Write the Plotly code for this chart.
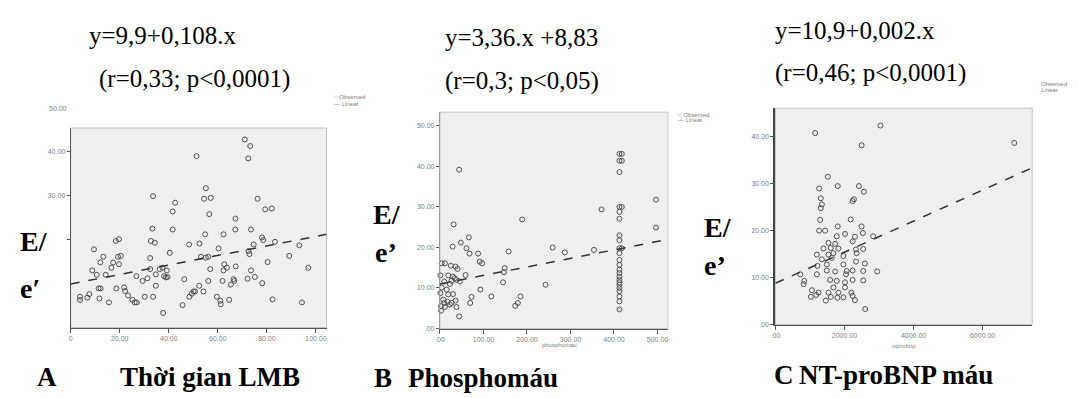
import plotly.graph_objects as go

W, H = 1078, 398

# ---------------- Panel A: Thời gian LMB ----------------
A_x = [3.8, 3.8, 6.8, 7.6, 9.5, 8.8, 10.6, 11.4, 12.2, 11.7, 12.1, 13.3, 14.3, 15.6, 16.6, 17.3,
       18.4, 18.6, 19.7, 19.7, 20.4, 19.3, 21.8, 22.2, 23.4, 25.2, 26.1, 26.9, 26.8, 29.3, 30.2,
       31.3, 32.4, 32.4, 32.7, 33.3, 33.6, 34.3, 33.6, 34.7, 34.7, 36.3, 37.4, 38.1, 38.8, 39.5,
       37.7, 39.2, 40.4, 41.6, 41.6, 42.6, 45.6, 46.3, 48.3, 48.4, 49.4, 50.1, 50.7, 51.3, 52.5,
       52.4, 53.1, 54.1, 54.4, 55.1, 54.8, 55.1, 56.1, 56.5, 57.1, 56.9, 56.1, 59.6, 60.3, 61.0,
       61.2, 61.9, 62.3, 62.6, 62.3, 63.7, 64.6, 65.3, 66.4, 66.7, 67.2, 67.1, 67.3, 71.0, 72.1,
       72.4, 73.2, 72.5, 72.9, 73.5, 73.5, 74.6, 75.1, 76.2, 78.0, 78.5, 78.1, 79.3, 80.3, 82.0,
       82.3, 83.3, 89.1, 93.2, 94.3, 96.9]
A_y = [7.0, 6.3, 6.8, 7.6, 17.8, 13.0, 12.0, 8.9, 8.9, 6.6, 14.8, 16.1, 12.0, 5.7, 13.6, 14.8,
       19.7, 8.9, 20.1, 14.4, 16.3, 16.1, 9.1, 8.3, 7.3, 6.3, 5.7, 5.7, 11.7, 10.6, 7.0,
       11.2, 15.8, 13.3, 19.7, 22.5, 29.9, 19.3, 7.0, 9.5, 12.1, 13.3, 13.6, 11.7, 11.4, 11.5,
       3.3, 13.0, 17.0, 26.4, 22.3, 28.4, 5.1, 11.0, 18.9, 7.0, 7.7, 8.2, 8.2, 39.0, 19.1,
       9.5, 16.1, 8.2, 29.3, 31.7, 21.2, 15.9, 16.1, 25.8, 29.5, 13.3, 10.6, 7.0, 18.0, 6.1,
       5.3, 10.6, 13.0, 14.4, 21.2, 13.6, 6.3, 9.8, 11.0, 10.6, 24.8, 22.3, 13.9, 42.8, 11.1,
       38.5, 41.3, 17.4, 16.7, 22.3, 13.0, 18.9, 11.5, 29.3, 20.5, 19.9, 10.1, 26.9, 14.9, 27.1,
       6.4, 19.5, 16.3, 18.7, 5.7, 13.6]
A_line_x = [0, 104.3]
A_line_y = [9.9, 21.2]
A_xticks = [0, 20, 40, 60, 80, 100]
A_xlabels = ["0", "20.00", "40.00", "60.00", "80.00", "100.00"]
A_yticks = [20, 30, 40]
A_ylabels = ["", "30.00", "40.00"]

# ---------------- Panel B: Phospho máu ----------------
B_x = [44, 31.3, 189, 66.4, 48, 29, 61, 68, 87.7, 91.5, 96.9, 158, 259, 287, 148.7, 147, 145,
       93, 72.5, 69.5, 118, 185, 179, 173, 242.6, 44, 3.8, 11.4, 25, 35.8, 40.4, 1, 19, 30,
       58.8, 9.9, 26.7, 38, 22.9, 3.8, 15.3, 1, 19, 30, 7.6, 17.5, 26.7, 35.8, 2.3, 11.4,
       22.9, 38, 2.3, 9.9, 34, 45.7, 354, 371.5, 496.6, 496.6,
       412.6, 412.6, 412.6, 412.6, 412.6, 412.6, 412.6, 412.6, 412.6, 412.6, 412.6, 412.6,
       412.6, 412.6, 412.6, 412.6, 412.6, 412.6, 412.6, 412.6, 412.6, 412.6, 412.6,
       418, 418, 418, 418]
B_y = [39.2, 25.7, 26.9, 22.5, 21.2, 20.2, 19.8, 18.5, 18.5, 16.5, 16.1, 19.0, 20.0, 18.8, 14.9,
       13.9, 11.4, 9.6, 7.8, 6.3, 7.9, 7.9, 6.3, 5.6, 10.8, 3.0, 16.1, 16.1, 15.5, 15.3, 14.7,
       13.1, 13.1, 12.8, 13.2, 11.6, 11.8, 12.0, 11.0, 10.1, 9.6, 8.75, 8.4, 8.5, 7.1, 6.6,
       6.3, 6.9, 5.5, 5.3, 5.9, 5.3, 4.4, 6.3, 12.4, 11.6, 19.4, 29.4, 31.8, 24.9,
       43.1, 41.4, 38.6, 30.0, 28.8, 27.1, 23.0, 21.8, 19.8, 18.6, 16.9, 15.7,
       14.5, 13.7, 12.8, 12.0, 11.4, 10.8, 10.0, 9.2, 7.9, 6.7, 4.7,
       43.1, 41.4, 30.0, 19.8]
B_line_x = [0, 524]
B_line_y = [11.0, 22.0]
B_xticks = [0, 100, 200, 300, 400, 500]
B_xlabels = [".00", "100.00", "200.00", "300.00", "400.00", "500.00"]
B_yticks = [0, 10, 20, 30, 40, 50]
B_ylabels = [".00", "10.00", "20.00", "30.00", "40.00", "50.00"]

# ---------------- Panel C: NT-proBNP máu ----------------
C_x = [1150, 3042, 2495, 6918, 1517, 1266, 1805, 2418, 2562, 1315, 1344, 1315, 2236, 2274, 1296,
       2179, 1266, 1439, 1805, 2015, 1776, 2495, 2533, 2302, 2832, 1537, 1729, 2236, 1393, 1603,
       1824, 2331, 2543, 1200, 1537, 1680, 2351, 1344, 1632, 1968, 2331, 2590, 1218, 1488, 1968,
       2064, 2236, 2543, 1729, 720, 1200, 2044, 1488, 2947, 835, 816, 1584, 1776, 2015, 2236,
       2543, 1680, 2015, 1056, 1247, 1537, 1824, 2198, 1027, 1181, 1603, 1795, 1968, 2236, 2302,
       1459, 2600]
C_y = [40.8, 42.4, 38.2, 38.7, 31.5, 29.0, 29.5, 29.5, 28.3, 26.9, 25.6, 24.8, 26.3, 26.7, 22.3,
       22.4, 20.0, 20.0, 20.9, 19.3, 18.8, 20.9, 19.5, 18.7, 18.8, 17.4, 17.2, 17.7, 16.2, 16.3,
       16.2, 16.0, 16.1, 14.9, 14.9, 15.2, 15.2, 13.9, 14.2, 14.6, 13.4, 13.0, 12.5, 12.8, 12.8,
       11.4, 11.5, 11.4, 11.3, 10.7, 10.7, 10.7, 11.5, 11.3, 9.3, 8.6, 9.5, 9.3, 9.0, 9.5,
       9.4, 7.9, 7.9, 7.3, 6.8, 6.8, 6.8, 6.8, 5.9, 6.3, 5.9, 5.7, 5.8, 6.1, 5.2,
       5.1, 3.3]
C_line_x = [0, 7436]
C_line_y = [8.8, 33.4]
C_xticks = [0, 2000, 4000, 6000]
C_xlabels = [".00", "2000.00", "4000.00", "6000.00"]
C_yticks = [0, 10, 20, 30, 40]
C_ylabels = [".00", "10.00", "20.00", "30.00", "40.00"]

# ---------------- Figure ----------------
def px(x):
    return x / W

def py(y):
    return 1 - y / H

fig = go.Figure()

panels = [
    ("x", "y", A_x, A_y, A_line_x, A_line_y),
    ("x2", "y2", B_x, B_y, B_line_x, B_line_y),
    ("x3", "y3", C_x, C_y, C_line_x, C_line_y),
]
for xa, ya, xs, ys, lx, ly in panels:
    fig.add_trace(go.Scatter(x=xs, y=ys, mode="markers", xaxis=xa, yaxis=ya,
                             marker=dict(symbol="circle-open", size=5, color="#505050",
                                         line=dict(width=1)),
                             showlegend=False, hoverinfo="skip", cliponaxis=False))
    fig.add_trace(go.Scatter(x=lx, y=ly, mode="lines", xaxis=xa, yaxis=ya,
                             line=dict(color="#333333", width=1.5, dash="dash"),
                             showlegend=False, hoverinfo="skip"))

tickfont = dict(family="Liberation Sans, Arial", size=7, color="#808080")

def xaxis(dom, rng, tv, tt, anchor):
    return dict(domain=dom, range=rng, tickvals=tv, ticktext=tt, ticks="outside", ticklen=4,
                tickcolor="#555555", showgrid=False, zeroline=False, showline=True,
                linecolor="#555555", linewidth=1.2, tickfont=tickfont, anchor=anchor,
                fixedrange=True)

def yaxis(dom, rng, tv, tt, anchor, lc="#555555", lw=1.2):
    return dict(domain=dom, range=rng, tickvals=tv, ticktext=tt, ticks="outside", ticklen=3,
                tickcolor="#555555", showgrid=False, zeroline=False, showline=True,
                linecolor=lc, linewidth=lw, tickfont=tickfont, anchor=anchor, fixedrange=True)

fig.update_layout(
    width=W, height=H, margin=dict(l=0, r=0, t=0, b=0),
    paper_bgcolor="white", plot_bgcolor="#efefef",
    xaxis=xaxis([px(66), px(323)], [0, 104.3], A_xticks, A_xlabels, "y"),
    yaxis=yaxis([py(330), py(129)], [0, 45.4], A_yticks, A_ylabels, "x"),
    xaxis2=xaxis([px(437), px(666)], [0, 524], B_xticks, B_xlabels, "y2"),
    yaxis2=yaxis([py(331), py(113)], [0, 53.4], B_yticks, B_ylabels, "x2", lc="#9a9a9a"),
    xaxis3=xaxis([px(774), px(1032)], [0, 7436], C_xticks, C_xlabels, "y3"),
    yaxis3=yaxis([py(327), py(109)], [0, 46.1], C_yticks, C_ylabels, "x3", lc="#444444", lw=2.2),
)

# light frame around each plotting area (SPSS style)
frames = [([66, 323], [129, 330]), ([437, 666], [113, 331]), ([774, 1032], [109, 327])]
for (x0, x1), (y0, y1) in frames:
    fig.add_shape(type="rect", xref="paper", yref="paper", x0=px(x0), x1=px(x1),
                  y0=py(y1), y1=py(y0), line=dict(color="#c4c4c4", width=1), layer="below")

serif = "Liberation Serif, Times New Roman, serif"

def txt(s, x, y, size, bold=False, color="black", family=serif, anchor="left"):
    if bold:
        s = "<b>" + s + "</b>"
    fig.add_annotation(text=s, x=px(x), y=py(y), xref="paper", yref="paper",
                       xanchor=anchor, yanchor="middle", showarrow=False, borderpad=0,
                       font=dict(family=family, size=size, color=color))

# equations
txt("y=9,9+0,108.x", 83, 36, 25)
txt("(r=0,33; p<0,0001)", 93, 80, 25)
txt("y=3,36.x +8,83", 441, 38, 25)
txt("(r=0,3; p<0,05)", 441, 82, 25)
txt("y=10,9+0,002.x", 773, 31, 25)
txt("(r=0,46; p<0,0001)", 773, 74, 25)

# E/e' labels
txt("E/", 14, 243, 28, bold=True)
txt("e′", 14, 291, 28, bold=True)
txt("E/", 369, 216, 28, bold=True)
txt("e’", 371, 254, 28, bold=True)
txt("E/", 701, 229, 28, bold=True)
txt("e’", 701, 268, 28, bold=True)

# panel captions
txt("A", 31, 380, 27, bold=True)
txt("Thời gian LMB", 115, 380, 27, bold=True)
txt("B", 370, 381, 27, bold=True)
txt("Phosphomáu", 404, 381, 27, bold=True)
txt("C", 772, 378, 27, bold=True)
txt("NT-proBNP máu", 797, 378, 27, bold=True)

# small SPSS legends / labels
sans = "Liberation Sans, Arial"
txt("○ Observed", 330, 98, 6, color="#808080", family=sans)
txt("— Linear", 330, 105, 6, color="#808080", family=sans)
txt("○ Observed", 675, 116, 6, color="#808080", family=sans)
txt("— Linear", 675, 121, 6, color="#808080", family=sans)
txt("Observed", 1040, 85, 6, color="#808080", family=sans)
txt("Linear", 1040, 91, 6, color="#808080", family=sans)
txt("50.00", 43, 109, 7, color="#808080", family=sans)
txt("phosphomau", 557, 348, 6, color="#808080", family=sans, anchor="center")
txt("ntprobnp", 903, 349, 6, color="#808080", family=sans, anchor="center")

fig.write_html("out.html")
